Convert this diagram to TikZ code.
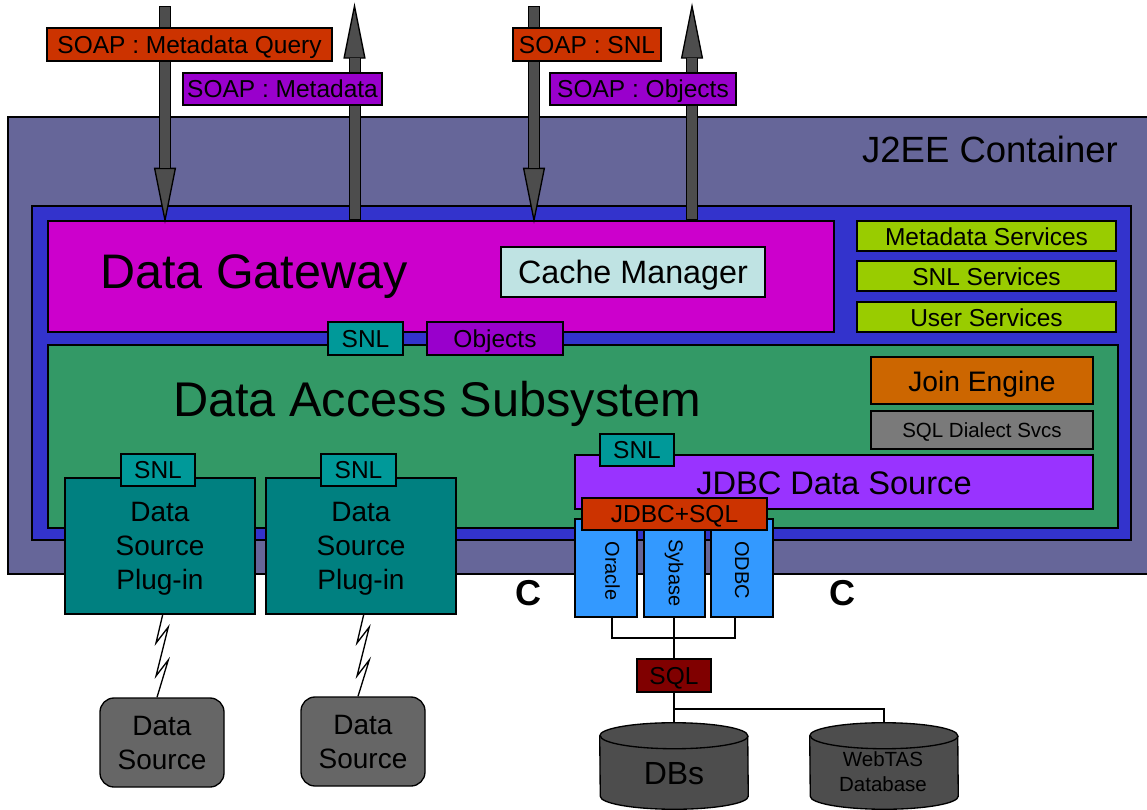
\documentclass[tikz,border=0pt]{standalone}
\usepackage{fontspec}
\setmainfont{Liberation Sans}
\usetikzlibrary{arrows.meta,calc}
\definecolor{cJ}{HTML}{666699}
\definecolor{cB}{HTML}{3333CC}
\definecolor{cG}{HTML}{CC00CC}
\definecolor{cC}{HTML}{BFE3E3}
\definecolor{cS}{HTML}{99CC00}
\definecolor{cD}{HTML}{339966}
\definecolor{cT}{HTML}{009999}
\definecolor{cO}{HTML}{9900CC}
\definecolor{cE}{HTML}{CC6600}
\definecolor{cQ}{HTML}{7A7A7A}
\definecolor{cV}{HTML}{9933FF}
\definecolor{cR}{HTML}{CC3300}
\definecolor{cL}{HTML}{3399FF}
\definecolor{cP}{HTML}{008080}
\definecolor{cM}{HTML}{800000}
\definecolor{cK}{HTML}{666666}
\definecolor{cA}{HTML}{4D4D4D}
\newcommand{\fpx}[1]{\fontsize{\fpeval{#1*0.75}}{\fpeval{#1*0.75*1.215}}\selectfont}
\newcommand{\bx}[8]{\node[boxn,fill=#6,font=\fpx{#7},
  minimum width={(#4-#2)*0.75pt},minimum height={(#5-#3)*0.75pt}]
  (#1) at ({(#2+#4)/2},{(#3+#5)/2}) {#8};}
\newcommand{\bigarrow}[2]{%
  \draw[line width=9pt,black,shorten >=-2.5pt,-{Triangle[length=42pt,width=16.5pt,line width=1pt,fill=cA,color=black]}] (#1) -- (#2);
  \draw[line width=7.5pt,cA,shorten <=0.75pt,shorten >=39pt] (#1) -- (#2);}
\newcommand{\cyl}[1]{%
  \draw[wire,fill=cA] ($(#1.north west)+(0,13)$) arc[start angle=180,end angle=0,x radius=55.5pt,y radius=9.75pt]
    -- ($(#1.south east)+(0,-13)$) arc[start angle=0,end angle=-180,x radius=55.5pt,y radius=9.75pt] -- cycle;
  \draw[wire] ($(#1.north east)+(0,13)$) arc[start angle=0,end angle=-180,x radius=55.5pt,y radius=9.75pt];}
\newcommand{\dn}[1]{\raisebox{-0.7pt}{#1}}
\tikzset{
  boxn/.style={draw=black,line width=1pt,rectangle,inner sep=0pt,align=center,text=black,text depth=0pt},
  lab/.style={inner sep=0pt,align=center,text=black,text depth=0pt},
  wire/.style={draw=black,line width=1pt},
  dbarea/.style={rectangle,inner sep=0pt,minimum width=111pt,minimum height=64.5pt},
}
\begin{document}
\begin{tikzpicture}[x=0.75pt,y=-0.75pt]
\useasboundingbox (0,0) rectangle (1147,810);
% outer containers
\bx{j2ee}{8}{117}{1150}{574}{cJ}{36}{}
\bx{blue}{32}{206}{1131}{540}{cB}{24}{}
\node[lab,font=\fpx{36.5}] (j2eet) at (990,149) {J2EE Container};
% gateway
\bx{gw}{48}{221}{834}{332}{cG}{48}{}
\node[lab,font=\fpx{48.5}] (gwt) at (254,272) {Data Gateway};
\bx{cache}{501}{247}{765}{297}{cC}{32.3}{Cache Manager}
\bx{s1}{857}{221}{1116}{251}{cS}{24.5}{\dn{Metadata Services}}
\bx{s2}{857}{261}{1116}{291}{cS}{24.5}{\dn{SNL Services}}
\bx{s3}{857}{302}{1116}{332}{cS}{24.5}{\dn{User Services}}
% data access
\bx{das}{48}{345}{1118}{528}{cD}{48}{}
\node[lab,font=\fpx{48.7}] (dast) at (437,399) {Data Access Subsystem};
\bx{snlg}{328}{322}{403}{355}{cT}{24.5}{SNL}
\bx{obj}{427}{322}{563}{355}{cO}{24.5}{Objects}
\bx{join}{871}{357}{1093}{404}{cE}{28.2}{\dn{Join Engine}}
\bx{dial}{871}{411}{1093}{449}{cQ}{20.5}{SQL Dialect Svcs}
\bx{jdbc}{575}{455}{1093}{509}{cV}{32}{}
\node[lab,font=\fpx{32.6}] (jdbct) at (834,483) {JDBC Data Source};
\bx{snlj}{600}{434}{674}{466}{cT}{24.5}{SNL}
% drivers
\bx{ora}{575}{519}{637}{617}{cL}{20}{}
\bx{syb}{644}{519}{705}{617}{cL}{20}{}
\bx{odb}{711}{519}{773}{617}{cL}{20}{}
\node[lab,font=\fpx{20},rotate=-90] (orat) at (612.5,571) {Oracle};
\node[lab,font=\fpx{20},rotate=-90] (sybt) at (676,573) {Sybase};
\node[lab,font=\fpx{20},rotate=-90] (odbt) at (742,570) {ODBC};
\bx{jsql}{582}{498}{767}{530}{cR}{24.5}{JDBC+SQL}
% plug-ins
\bx{p1}{65}{478}{255}{614}{cP}{28}{Data\\Source\\Plug-in}
\bx{p2}{266}{478}{456}{614}{cP}{28}{Data\\Source\\Plug-in}
\bx{snl1}{121}{454}{195}{486}{cT}{24.5}{SNL}
\bx{snl2}{321}{454}{396}{486}{cT}{24.5}{SNL}
% data sources
\node[boxn,fill=cK,rounded corners=10.5pt,font=\fpx{28},minimum width=93pt,minimum height=66.75pt] (ds1) at (162,742.5) {Data\\Source};
\node[boxn,fill=cK,rounded corners=10.5pt,font=\fpx{28},minimum width=93pt,minimum height=66.75pt] (ds2) at (363,741.5) {Data\\Source};
\draw[wire] ($(p1.south)+(2.7,0)$) -- (156,643) -- (168.3,627) -- (156,676) -- (168.3,660) -- ($(ds1.north)+(-5,0)$);
\draw[wire] ($(p2.south)+(2.7,0)$) -- (357,643) -- (369.3,627) -- (357,676) -- (369.3,660) -- ($(ds2.north)+(-5,0)$);
% C labels
\node[lab,font=\bfseries\fpx{36}] (c1) at (528,593) {C};
\node[lab,font=\bfseries\fpx{36}] (c2) at (842,593) {C};
% databases
\node[dbarea] (db) at (674,766) {};
\node[dbarea] (web) at (884,766) {};
\cyl{db}
\cyl{web}
\node[lab,font=\fpx{32}] (dbt) at (674,773) {DBs};
\node[lab,font=\fpx{20.5}] (webt) at (883,772) {WebTAS\\Database};
\bx{sql}{637}{659}{711}{692}{cM}{24.5}{SQL}
% wiring
\coordinate (joinb) at (syb.south |- 0,638);
\draw[wire] (ora.south -| 612,0) |- (joinb) -| (odb.south -| 735,0);
\draw[wire] (syb.south -| sql.north) -- (sql.north);
\coordinate (branch) at (sql.south |- 0,709);
\draw[wire] (sql.south) -- (db.north -| sql.south);
\draw[wire] (branch) -| (web.north);
% big arrows
\coordinate (a1) at (165,6);
\coordinate (a2) at (354.5,6);
\coordinate (a3) at (534,6);
\coordinate (a4) at (692,6);
\bigarrow{a1}{a1 |- gw.north}
\bigarrow{a2 |- gw.north}{a2}
\bigarrow{a3}{a3 |- gw.north}
\bigarrow{a4 |- gw.north}{a4}
% SOAP labels
\bx{mq}{47}{28}{332}{61}{cR}{24.5}{SOAP : Metadata Query}
\bx{md}{183}{73}{382}{105}{cO}{24.5}{SOAP : Metadata}
\bx{sq}{513}{28}{661}{61}{cR}{24.5}{SOAP : SNL}
\bx{ob}{550}{73}{736}{105}{cO}{24.5}{SOAP : Objects}
\end{tikzpicture}
\end{document}
